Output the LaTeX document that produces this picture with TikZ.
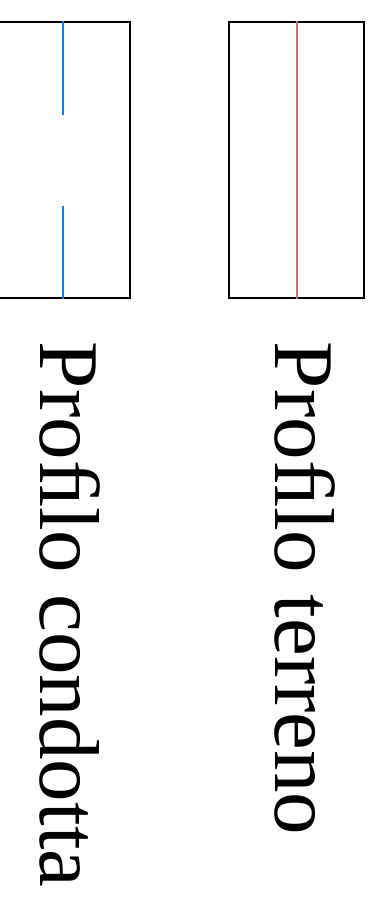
\documentclass[tikz,border=0pt]{standalone}
\usepackage{fontspec}
\setmainfont{Liberation Serif}
\usepackage{tikz}
\definecolor{condblue}{RGB}{0,130,255}
\definecolor{terrred}{RGB}{200,112,112}
\tikzset{profbox/.style={draw=black,line width=1.6pt,minimum width=135pt,minimum height=276pt,inner sep=0pt},
  proflabel/.style={rotate=-90,anchor=base west,inner sep=0pt}}

\begin{document}
\begin{tikzpicture}[x=1pt,y=1pt,line width=2pt,font=\fontsize{85}{100}\selectfont]
\clip (0,0) rectangle (384,914);
\node[profbox] (cond) at (62.5,754) {};\node[profbox] (terr) at (296.5,754) {};
\draw[condblue] (cond.north)--++(0,-94);\draw[condblue] (cond.south)--++(0,93);
\draw[terrred] (terr.north)--(terr.south);
\node[proflabel] (condlab) at (40,573) {Proﬁlo condotta};
\node[proflabel] (terrlab) at (275,573) {Proﬁlo terreno};
\end{tikzpicture}
\end{document}
